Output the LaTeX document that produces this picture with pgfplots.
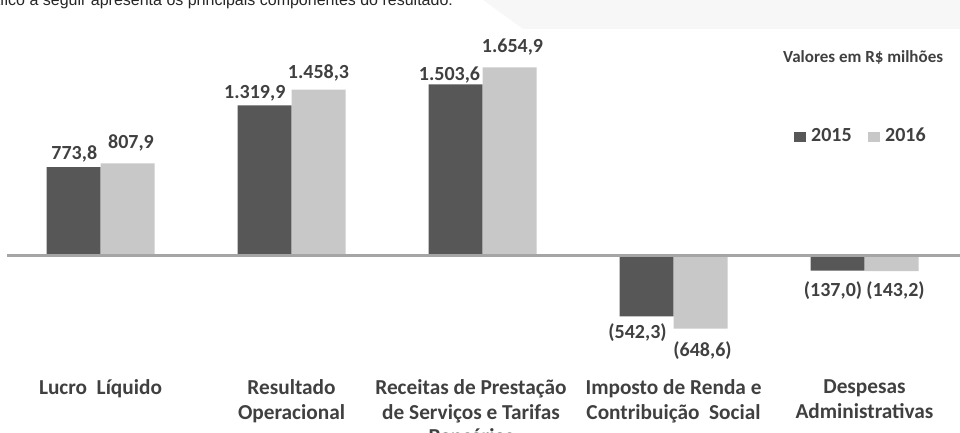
\documentclass[border=0pt]{standalone}
\usepackage{fontspec}
\setmainfont{Carlito}
\newfontfamily\arialfont{Liberation Sans}
\usepackage{pgfplots}
\pgfplotsset{compat=1.18}
\usepackage{pgfplotstable}

\definecolor{c2015}{HTML}{575757}
\definecolor{c2016}{HTML}{C8C8C8}
\definecolor{txt}{HTML}{404040}
\definecolor{zeroline}{HTML}{A5A5A5}
\definecolor{bgshape}{HTML}{F7F7F7}

% x = category, y = value, dx/dy = label offset from category centre (pt), lbl = printed value
\pgfplotstableread{
x y dx dy lbl
0 773.8 -26.2 7.3 773,8
1 1319.9 -36.7 6.5 1.319,9
2 1503.6 -33 3.5 1.503,6
3 -542.3 -36 -22 (542,3)
4 -137.0 -31.5 -25.5 (137,0)
}\dataA

\pgfplotstableread{
x y dx dy lbl
0 807.9 30.5 14.6 807,9
1 1458.3 27 11.5 1.458,3
2 1654.9 30 14.6 1.654,9
3 -648.6 29 -27.5 (648,6)
4 -143.2 31 -24.8 (143,2)
}\dataB

\pgfplotsset{
  barlbl/.style={
    ybar, bar width=54pt, draw=none, forget plot,
    point meta=explicit symbolic,
    nodes near coords={\pgfplotspointmeta},
    visualization depends on={\thisrow{dx}\as\myDx},
    visualization depends on={\thisrow{dy}\as\myDy},
    every node near coord/.append style={anchor=base, xshift=\myDx pt, yshift=\myDy pt,
      inner sep=0pt, text=txt, font=\bfseries\fontsize{20}{24}\selectfont},
  },
}

\begin{document}
\begin{tikzpicture}
\begin{axis}[
  x=191pt, y=0.1134pt,
  xmin=-0.4895, xmax=4.5, ymin=-1097.9, ymax=1900,
  clip=false,
  axis line style={draw=none},
  major tick length=0pt,
  ytick=\empty,
  xtick={0,1,3,4},
  xticklabels={{Lucro\ \ Líquido},{Resultado\\Operacional},{Imposto de Renda e\\Contribuição\ \ Social},{Despesas\\Administrativas}},
  extra x ticks={2},
  extra x tick labels={{Receitas de Prestação\\de Serviços e Tarifas\\Bancárias}},
  extra x tick style={major tick length=0pt, xticklabel style={xshift=-11.5pt}},
  xticklabel style={align=center, anchor=north, inner sep=0pt, text=txt,
    font=\bfseries\fontsize{21.3}{24.5}\selectfont},
  legend columns=-1,
  legend style={at={(0.8261,0.7186)}, anchor=west, draw=none, fill=none,
    inner sep=0pt, outer sep=0pt, font=\bfseries\fontsize{20}{24}\selectfont, text=txt,
    cells={anchor=base west, inner sep=0pt},
    /tikz/every odd column/.style={column sep=4pt},
    /tikz/every even column/.style={column sep=14.5pt}},
]
\addplot[barlbl, bar shift=-27pt, fill=c2015]
  table[x=x, y=y, meta=lbl] {\dataA};
\addplot[barlbl, bar shift=27pt, fill=c2016]
  table[x=x, y=y, meta=lbl] {\dataB};

\addlegendimage{legend image code/.code={\fill[c2015] (0pt,0.3pt) rectangle (10.5pt,9.3pt);}}
\addlegendentry{2015}
\addlegendimage{legend image code/.code={\fill[c2016] (0pt,0.3pt) rectangle (10.5pt,9.3pt);}}
\addlegendentry{2016}

\draw[zeroline, line width=3pt] (axis cs:-0.4895,-8.8) -- (axis cs:4.5,-8.8);
\coordinate (O) at (axis cs:-0.526178,2248.68);
\end{axis}

\begin{scope}[shift={(O)}, x={(1pt,0)}, y={(0,-1pt)}]
  \fill[bgshape] (483,0) -- (523,29) -- (960,29) -- (960,0) -- cycle;
  \node[anchor=base west, inner sep=0pt, text=black!85,
    font=\arialfont\fontsize{16}{18}\selectfont] at (-23.1,5.5)
    {gráfico a seguir apresenta os principais componentes do resultado:};
  \node[anchor=base west, inner sep=0pt, text=txt,
    font=\bfseries\fontsize{17}{20}\selectfont] at (783,63) {Valores em R\$ milhões};
\end{scope}
\pgfresetboundingbox
\path[shift={(O)}, x={(1pt,0)}, y={(0,-1pt)}] (0,0) rectangle (960,433);
\end{tikzpicture}
\end{document}
